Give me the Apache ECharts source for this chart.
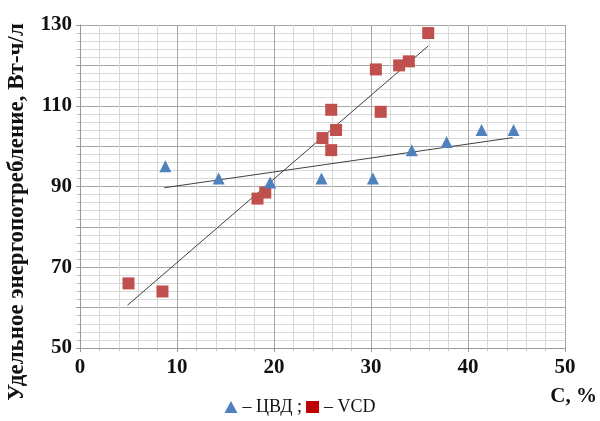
<!DOCTYPE html>
<html>
<head>
<meta charset="utf-8">
<script src="https://cdn.jsdelivr.net/npm/echarts@6/dist/echarts.min.js"></script>
<style>
  html, body { margin: 0; padding: 0; background: #fff; }
  #chart { width: 600px; height: 421px; }
</style>
</head>
<body>
<div id="chart"></div>
<script>
// ЦВД (triangles)
const cvdX = [8.8, 14.3, 19.6, 24.9, 30.2, 34.2, 37.8, 41.4, 44.7]
const cvdY = [95, 92, 91, 92, 92, 99, 101, 104, 104]
// VCD (squares)
const vcdX = [5, 8.5, 18.3, 19.1, 25, 25.9, 26.4, 25.9, 30.5, 31, 32.9, 33.9, 35.9]
const vcdY = [66, 64, 87, 88.5, 102, 109, 104, 99, 119, 108.5, 120, 121, 128]
// trend lines (end points)
const cvdTrendX = [8.7, 44.6]
const cvdTrendY = [89.7, 102.1]
const vcdTrendX = [4.9, 35.9]
const vcdTrendY = [60.6, 124.8]
// labelled y ticks
const yLabels = [50, 70, 90, 110, 130]

const serif = '"Liberation Serif", "DejaVu Serif", serif'
const pairs = (xs, ys) => xs.map((x, i) => [x, ys[i]])

const chart = echarts.init(document.getElementById('chart'))

chart.setOption({
  animation: false,
  grid: { left: 80, right: 35, top: 25, bottom: 73 },
  legend: {
    bottom: 0,
    left: 'center',
    itemWidth: 13,
    itemHeight: 12,
    itemGap: 4,
    textStyle: { fontFamily: serif, fontSize: 18, color: '#111' },
    formatter: name => name === 'ЦВД' ? '– ЦВД ;' : '– VCD',
    data: [
      { name: 'ЦВД', icon: 'triangle', itemStyle: { color: '#4f81bd' } },
      { name: 'VCD', icon: 'rect', itemStyle: { color: '#c00000' } }
    ]
  },
  xAxis: {
    type: 'value',
    min: 0,
    max: 50,
    interval: 10,
    axisLine: { show: true, lineStyle: { color: '#999' } },
    axisTick: { show: true, length: 4, lineStyle: { color: '#999' } },
    axisLabel: { fontFamily: serif, fontSize: 21, fontWeight: 'bold', color: '#111', margin: 9 },
    splitLine: { show: true, lineStyle: { color: '#a6a6a6' } },
    minorTick: { show: true, splitNumber: 5, length: 3, lineStyle: { color: '#bbb' } },
    minorSplitLine: { show: true, lineStyle: { color: '#d9d9d9' } }
  },
  yAxis: {
    type: 'value',
    min: 50,
    max: 130,
    interval: 10,
    axisLine: { show: true, lineStyle: { color: '#999' } },
    axisTick: { show: true, length: 4, lineStyle: { color: '#999' } },
    axisLabel: {
      fontFamily: serif, fontSize: 21, fontWeight: 'bold', color: '#111', margin: 8,
      formatter: v => yLabels.includes(v) ? String(v) : ''
    },
    splitLine: { show: true, lineStyle: { color: '#a6a6a6' } },
    minorTick: { show: true, splitNumber: 5, length: 3, lineStyle: { color: '#bbb' } },
    minorSplitLine: { show: true, lineStyle: { color: '#d9d9d9' } }
  },
  graphic: [
    {
      type: 'text',
      x: 6,
      y: 212,
      rotation: Math.PI / 2,
      style: {
        text: 'Удельное энергопотребление, Вт-ч/л',
        font: 'bold 23px ' + serif,
        fill: '#111',
        align: 'center',
        verticalAlign: 'top'
      }
    },
    {
      type: 'text',
      right: 3,
      top: 386,
      style: { text: 'C, %', font: 'bold 21px ' + serif, fill: '#111' }
    }
  ],
  series: [
    {
      name: 'ЦВД trend',
      type: 'line',
      data: pairs(cvdTrendX, cvdTrendY),
      symbol: 'none',
      lineStyle: { color: '#404040', width: 1 },
      z: 1
    },
    {
      name: 'VCD trend',
      type: 'line',
      data: pairs(vcdTrendX, vcdTrendY),
      symbol: 'none',
      lineStyle: { color: '#404040', width: 1 },
      z: 1
    },
    {
      name: 'ЦВД',
      type: 'scatter',
      symbol: 'triangle',
      symbolSize: 12,
      itemStyle: { color: '#4f81bd', opacity: 1 },
      data: pairs(cvdX, cvdY),
      z: 3
    },
    {
      name: 'VCD',
      type: 'scatter',
      symbol: 'rect',
      symbolSize: 12,
      itemStyle: { color: '#c0504d', opacity: 1 },
      data: pairs(vcdX, vcdY),
      z: 2
    }
  ]
})
</script>
</body>
</html>
